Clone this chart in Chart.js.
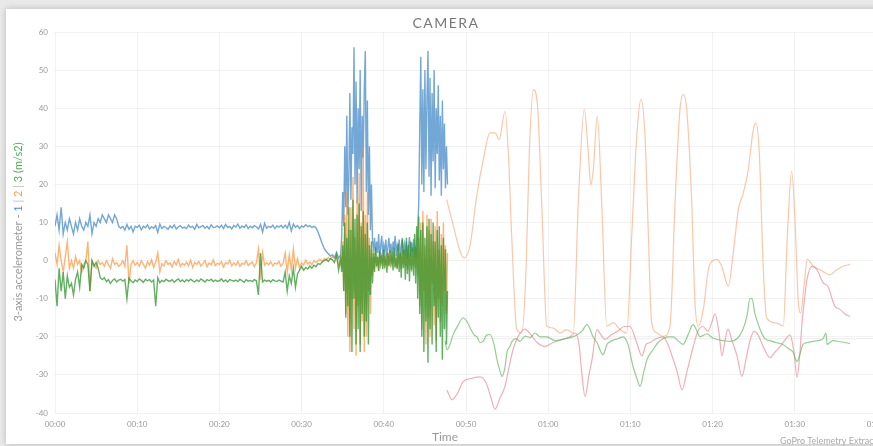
<!DOCTYPE html>
<html>
<head>
<meta charset="utf-8">
<script src="https://cdn.jsdelivr.net/npm/chart.js@4"></script>
<style>
  html, body { margin: 0; padding: 0; overflow: hidden; background: #e9e9e9; width: 873px; height: 446px; }
  #card { position: absolute; left: 6px; top: 9px; width: 900px; height: 435px; background: #fff; box-shadow: 0 0 6px rgba(0,0,0,0.22); }
  #chart { position: absolute; left: 0; top: 0; }
</style>
</head>
<body>
<div id="card"></div>
<canvas id="chart" width="900" height="446"></canvas>
<script>
// camera accelerometer: quiet part 0..34.5 s every 0.25 s, active part 34.75..48 s every 0.125 s
const quietStart = 0, quietStep = 0.25;
const activeStart = 34.75, activeStep = 0.125;

const accel1Quiet = [
  9, 12, 8, 14, 7, 10, 8, 11,
  9, 7, 10, 8, 11, 9, 8, 10,
  9, 12, 7, 10, 9, 11, 10, 12,
  11, 10, 12, 11, 10, 12, 11, 9,
  8.5, 9, 8, 9.5, 8.2, 9, 7.5, 9,
  8.7, 9.3, 8.1, 9, 8.6, 9.4, 8.3, 8.9,
  8.5, 9.2, 7.4, 9.6, 8.4, 9, 8.7, 8.2,
  9.1, 8.6, 9.4, 8.3, 8.9, 9.2, 8.5, 8.8,
  8.4, 9.3, 8.7, 9, 8.2, 9.5, 8.6, 8.9,
  9.2, 8.5, 9, 8.3, 9.4, 8.7, 8.8, 9.1,
  8.6, 9.3, 8.4, 9.5, 8.7, 9, 8.3, 9.2,
  8.8, 9.6, 8.5, 9.1, 8.7, 9.4, 8.4, 9,
  8.6, 9.2, 8.9, 8.3, 9.5, 7.5, 9.8, 8.5,
  9, 8.7, 9.3, 8.4, 9.1, 8.8, 9.2, 8.6,
  9.3, 8.5, 10, 7.8, 9.6, 8.7, 9.2, 8.4,
  9.1, 8.8, 9.4, 8.9, 9.2, 8.7, 9, 8.6,
  7.5, 6, 4.5, 3.2, 2.4, 1.8, 1.2, 1.5,
  0.8, 2.2, 0.6
];
const accel1Active = [
  1.5, 6, 18, 9, 30, 14, 38, 12,
  22, 44, 16, 35, 28, 56, 20, 47,
  15, 40, 24, 50, 13, 38, 27, 45,
  55, 18, 42, 12, 30, 8, 20, 5,
  3, 6, 1.5, 5, 2, 7, 0.5, 4,
  6.5, 1, 4, 2.5, 5.5, 0.8, 3.5, 6,
  2, 4.5, 0.3, 5, 3, 6.5, 1.2, 4,
  2.5, 5.5, 0.6, 3.8, 6, 1.5, 4.2, 2,
  5, 0.4, 3.6, 6.2, 1, 4.8, 2.2, 5.6,
  0.8, 3, 1.5, 8,
  15, 35, 53.5, 20, 45, 18, 50, 24,
  42, 55, 22, 48, 17, 44, 26, 50,
  19, 40, 28, 46, 21, 38, 17, 42,
  24, 36, 19, 30, 20, null, null
];

const accel2Quiet = [
  2, -1, 4, 0, -3, 1, 5, -2,
  0, -2, 1, -1, 0, -3, -1, 0,
  5, -8, 0, -1, -2, 0, -1, -0.5,
  -1.5, 0, -1, -2, 0.5, -1, -0.5, -1.5,
  -1, 0, -1.5, 4, -6, -1, 0, -1.2,
  -0.5, -1.5, 0, -1, -2, -0.3, -1.2, 0.2,
  -1.8, -0.4, 2, -3, -0.8, -1.4, 0, -1,
  -0.6, -1.7, -0.2, -1.1, 0.3, -1.5, -0.7, -1.2,
  -0.4, -1.3, 0.1, -1.8, -0.5, -1, -0.2, -1.4,
  -0.8, 0, -1.6, -0.6, -1.1, 0.2, -1.3, -0.7,
  -1, -0.3, -1.7, -0.5, -0.9, 0.1, -1.4, -0.6,
  -1.2, -0.2, -1.5, -0.7, -1, 0, -1.3, -0.8,
  -0.4, -1.6, -0.6, 3, -5, 2, -1.2, -0.5,
  -1.1, -0.3, -1.4, -0.6, -0.9, -0.2, -1.5, -0.7,
  2, -3, 1.5, -2.5, 3, -2, 0.5, -1.8,
  -0.6, -1.2, 0.1, -0.9, -0.4, -1.1, 0, -0.5,
  0, 0.3, -0.2, 0.5, 0.2, 0.8, 0.4, 1,
  0.6, 1.2, -1
];
const accel2Active = [
  1, -2, 5, -8, 12, -14, 18, -20,
  8, -24, 14, -10, 22, -18, 6, -25,
  16, -12, 23, -22, 10, -16, 30, -24,
  12, -20, 18, -8, 6, -14, 3, -4,
  1, -2, 2.5, -1, 0.5, -2.5, 1.5, -0.5,
  2, -1.5, 0.8, -2, 1.2, -0.3, 2.2, -1,
  0.5, -1.8, 1.6, -0.8, 2.4, -1.2, 0.2, -2,
  1.8, -0.6, 0.9, -2.2, 1.4, -1, 2.6, -1.6,
  0.4, -2.4, 3, -1.2, 1, -3, 2, -0.5,
  1.5, -2, 3, -4,
  6, -12, 10, -18, 13, -8, 4, -22,
  12, -15, 8, -20, 11, -6, 5, -17,
  9, -21, 13, -10, 3, -16, 7, -12,
  10, -8, 4, -14, 2, null, null
];

const accel3Quiet = [
  -5, -12, -2, -8, -3, -10, -4, -7,
  -6, -9, -5, -3, -7, -1, -2, 0,
  -1, -8, 0, -1.5, -0.5, -2, -4.5, -5,
  -4.5, -5.5, -5, -6, -5.2, -4.8, -5.6, -5.1,
  -4.9, -5.4, -5, -10, -4.6, -5.3, -5.8, -5.1,
  -5.5, -4.8, -5.2, -5.7, -4.9, -5.3, -5, -5.6,
  -5.1, -12, -4.5, -5.8, -5.2, -5.5, -4.9, -5.3,
  -5.4, -5, -5.7, -5.2, -4.8, -5.5, -5.1, -5.6,
  -5, -5.4, -4.9, -5.3, -5.6, -5.1, -5.5, -4.8,
  -5.2, -5.6, -5, -5.3, -4.9, -5.5, -5.1, -5.4,
  -5.3, -4.8, -5.5, -5.1, -5.6, -5, -5.2, -5.4,
  -5.1, -5.5, -4.9, -5.3, -5.7, -5, -5.4, -5.2,
  -5.5, -5, -5.3, -9, 2, -5.6, -5.1, -5.4,
  -5.2, -5.6, -5, -5.3, -5.5, -5.1, -5.4, -5.6,
  -3, -8, -4, -6, -2, -7, -3.5, -2.5,
  -1.5, -2.5, -1.8, -2.2, -1.4, -2, -1.2, -1.6,
  -0.8, -1, -0.4, 0, 0.3, -0.2, 0.5, 0.2,
  -0.5, 1.5, -2.5
];
const accel3Active = [
  0.5, -3, 4, -8, 10, -15, 6, -12,
  14, -20, 8, -24, 16, -10, 11, -22,
  12, -18, 15, -24, 9, -14, 13, -20,
  7, -16, 10, -22, 4, -9, 5, -6,
  2, -3, 3.5, -1.5, 1, -2.8, 2.6, -0.8,
  1.4, -2.2, 3, -1, 0.6, -3.2, 2, -1.4,
  2.8, -0.5, 1.2, -2.6, 3.4, -1.8, 0.4, -2.2,
  4.5, -3, 2, -4.5, 5.5, -2, 3, -5,
  6, -3.5, 4, -5.5, 5, -2.5, 3.5, -4,
  7, -6, 9, -10,
  11.6, -14, 8, -20, 10, -24, 6, -16,
  9, -26.8, 11, -18, 7, -22, 10, -12,
  5, -24, 8, -15, 9, -20, 4, -26,
  6, -18, 3, -22, -8, null, null
];

// later, smoother traces (seconds / m/s2)
const peachTimes = [47.65, 48.46, 49.27, 49.76, 50.49, 51.3, 52.1, 52.92, 53.53, 54.05, 54.74, 55.15, 55.56, 56.17, 56.78, 57.3, 57.7, 58.19, 58.67, 59.21, 59.82, 60.62, 61.44, 62.25, 63.05, 63.66, 64.39, 64.88, 65.17, 65.49, 65.97, 66.51, 67.12, 67.92, 68.73, 69.55, 70.16, 70.77, 71.29, 71.78, 72.14, 72.57, 73.24, 74.0, 74.82, 75.43, 76.03, 76.44, 76.85, 77.46, 77.86, 78.26, 78.87, 79.48, 79.89, 80.5, 81.11, 81.91, 82.52, 83.13, 83.74, 84.34, 84.95, 85.28, 85.68, 86.17, 86.58, 87.8, 88.6, 89.09, 89.62, 90.02, 90.43, 90.72, 91.12, 91.52, 92.25, 93.07, 94.28, 95.1, 95.9, 96.72];
const peachValues = [16, 9.1, 2.5, 0.7, 4, 16.9, 26.5, 33.5, 33.5, 31.8, 39.2, 28.3, 6.4, -18.1, -19, -2.4, 28.3, 44.9, 41.4, 15.2, -17.2, -17.7, -19, -18.1, -19, 15.2, 39.7, 28.3, 19.9, 23.9, 37.9, 15.2, -17.2, -16.3, -18.1, -19, 6.4, 32.6, 42.3, 32.6, 10, -16, -19, -19.9, -17.2, 15.2, 39.7, 43.6, 39.7, 15.2, -11, -17.2, -12.8, -2.4, -0.2, 0.3, -1.5, -6.7, 2.1, 13.4, 17.8, 23.9, 34.4, 36.1, 28.3, -2.4, -15.1, -16.4, -17.2, 6.4, 23.4, 10.8, -11, -13.7, -6.7, 0.3, -1.5, -2.4, -3.7, -2.4, -1.5, -1.0];

const roseTimes = [47.69, 48.3, 48.91, 49.64, 50.49, 51.7, 52.43, 53.04, 53.53, 54.14, 54.74, 55.23, 55.72, 56.45, 57.18, 57.91, 58.64, 59.61, 60.58, 61.8, 62.65, 63.26, 63.75, 64.11, 64.48, 64.96, 65.33, 65.94, 66.42, 66.91, 67.64, 68.49, 69.22, 69.95, 70.68, 71.41, 71.9, 72.38, 73.11, 73.97, 74.57, 75.06, 75.67, 76.28, 76.89, 77.62, 78.22, 78.83, 79.44, 79.93, 80.29, 80.78, 81.14, 81.51, 81.87, 82.36, 82.97, 83.58, 84.06, 84.55, 85.04, 85.52, 86.25, 86.98, 87.59, 88.2, 88.93, 89.42, 89.9, 90.27, 90.63, 90.88, 91.24, 91.48, 92.09, 92.7, 93.43, 94.04, 94.53, 94.89, 95.5, 96.11, 96.72];
const roseValues = [-34, -36.5, -35, -31.8, -31, -30.5, -32, -36, -39, -36, -33, -28, -23.4, -19.5, -18, -19.5, -21.5, -22.5, -21.5, -20.7, -20, -19, -22, -30, -35.7, -30, -26, -18.1, -19.5, -20.7, -19.5, -18.5, -17.3, -17.3, -21, -25, -22, -21.5, -20.5, -20, -22, -25, -29, -33.9, -29, -22.8, -18.5, -17.3, -18.5, -16, -14, -19, -25, -21, -18, -21, -25, -30.4, -26, -21, -18.6, -19.5, -23, -25.5, -24, -22.6, -20.5, -19.5, -24, -30.7, -24, -16.3, -9, -5, -1.5, -2.4, -5.8, -6.8, -10, -12, -12.8, -14, -14.7];

const mintTimes = [47.45, 47.69, 48.05, 48.42, 49.03, 49.64, 50.12, 50.49, 50.97, 51.34, 51.7, 52.07, 52.55, 52.92, 53.41, 53.77, 54.14, 54.38, 54.74, 54.99, 55.35, 55.6, 56.08, 56.57, 57.18, 57.79, 58.39, 59.0, 59.85, 60.83, 62.04, 63.26, 64.11, 64.72, 65.09, 65.45, 65.94, 66.67, 67.15, 67.76, 68.49, 69.1, 69.71, 70.32, 70.8, 71.17, 71.65, 72.02, 72.75, 73.36, 73.97, 74.57, 75.18, 75.79, 76.4, 77.01, 77.62, 78.1, 78.47, 79.32, 79.93, 80.54, 81.27, 82.12, 82.97, 83.7, 84.18, 84.55, 84.79, 85.16, 85.77, 86.37, 86.98, 87.71, 88.56, 89.17, 89.78, 90.27, 90.63, 91.0, 91.61, 92.21, 92.82, 93.43, 93.8, 93.92, 94.28, 94.65, 95.5, 96.11, 96.72];
const mintValues = [-21, -23.4, -22, -19.5, -17, -15, -16, -17.6, -19.5, -20, -21.5, -21.2, -19.5, -19.4, -22, -26, -29, -30.4, -28, -24, -22.5, -21.2, -20.5, -21.2, -19.8, -20.2, -19, -20, -20, -21, -20.5, -19.8, -18.5, -16.8, -18, -20, -21.5, -24.7, -22, -21, -20.5, -20, -22, -27.8, -31, -33, -29, -26, -23.4, -21.5, -20.5, -20, -20, -21, -22, -19.5, -16.8, -18.5, -20, -19.2, -20.2, -20.7, -21, -21.2, -20.5, -18, -14.5, -10, -10, -14, -18, -20.5, -21, -21.5, -22, -23, -24, -26.5, -24.5, -22, -21.5, -21.2, -21, -20.5, -19, -22, -21.5, -21, -21.3, -21.5, -21.8];

const baselineTimes = [48, 100];
const baselineValues = [-20.5, -20.5];

const yTicks = { min: -40, max: 60, step: 10 };
const xTicks = { min: 0, max: 100, step: 10 };

// sample clock of each part
const quietTimes = accel1Quiet.map((_, i) => quietStart + i * quietStep);
const activeTimes = accel1Active.map((_, i) => activeStart + i * activeStep);

function pairs(times, values) {
  return values.map((v, i) => ({ x: times[i], y: v }));
}

function sampled(quiet, active) {
  return pairs(quietTimes, quiet).concat(pairs(activeTimes, active));
}

function mmss(sec) {
  const m = Math.floor(sec / 60);
  const s = Math.round(sec % 60);
  return String(m).padStart(2, '0') + ':' + String(s).padStart(2, '0');
}

// textes : titre, axes, crédit
const labelsPlugin = {
  id: 'labels',
  afterDraw(chart) {
    const ctx = chart.ctx;
    ctx.save();

    ctx.fillStyle = '#777';
    ctx.font = '14px Lato, "Open Sans", sans-serif';
    ctx.letterSpacing = '1.5px';
    ctx.textAlign = 'center';
    ctx.textBaseline = 'middle';
    ctx.fillText('CAMERA', 446, 23);
    ctx.letterSpacing = '0px';

    ctx.fillStyle = '#999';
    ctx.font = '12px Lato, "Open Sans", sans-serif';
    ctx.fillText('Time', 445, 437);

    ctx.fillStyle = '#aaa';
    ctx.font = '9px Lato, "Open Sans", sans-serif';
    ctx.textAlign = 'left';
    ctx.fillText('GoPro Telemetry Extract', 780, 441);

    const parts = [
      ['3-axis accelerometer - ', '#999'],
      ['1', '#4a90c8'],
      [' | ', '#bbb'],
      ['2', '#f5a04a'],
      [' | ', '#bbb'],
      ['3 (m/s2)', '#4caf50']
    ];
    ctx.font = '11px Lato, "Open Sans", sans-serif';
    const total = parts.reduce((w, p) => w + ctx.measureText(p[0]).width, 0);
    ctx.translate(18, 232);
    ctx.rotate(-Math.PI / 2);
    let x = -total / 2;
    parts.forEach(p => {
      ctx.fillStyle = p[1];
      ctx.fillText(p[0], x, 0);
      x += ctx.measureText(p[0]).width;
    });
    ctx.restore();
  }
};

const line = (label, data, color, width) => ({
  label, data,
  borderColor: color,
  borderWidth: width,
  pointRadius: 0,
  fill: false,
  spanGaps: false
});

const smooth = (label, data, color) => Object.assign(line(label, data, color, 1.2), {
  cubicInterpolationMode: 'monotone'
});

new Chart(document.getElementById('chart'), {
  type: 'line',
  data: {
    datasets: [
      line('3', sampled(accel3Quiet, accel3Active), 'rgba(44,150,44,0.75)', 1.4),
      line('2', sampled(accel2Quiet, accel2Active), 'rgba(255,140,40,0.65)', 1.4),
      line('1', sampled(accel1Quiet, accel1Active), 'rgba(40,120,190,0.65)', 1.4),
      smooth('3b', pairs(mintTimes, mintValues), 'rgba(90,180,90,0.65)'),
      smooth('1b', pairs(roseTimes, roseValues), 'rgba(228,110,120,0.55)'),
      smooth('2b', pairs(peachTimes, peachValues), 'rgba(250,160,110,0.6)'),
      line('ref', pairs(baselineTimes, baselineValues), 'rgba(0,0,0,0.08)', 1)
    ]
  },
  options: {
    responsive: false,
    animation: false,
    layout: { padding: { top: 32, right: 23, left: 0, bottom: 0 } },
    plugins: {
      legend: { display: false },
      tooltip: { enabled: false },
      title: { display: false }
    },
    scales: {
      x: {
        type: 'linear',
        min: xTicks.min,
        max: xTicks.max,
        afterFit: s => { s.height = 33; },
        border: { display: false },
        grid: { color: 'rgba(0,0,0,0.05)', drawTicks: false },
        ticks: {
          stepSize: xTicks.step,
          padding: 7,
          color: '#999',
          font: { size: 8, family: 'Lato, "Open Sans", sans-serif' },
          maxRotation: 0,
          callback: v => mmss(v)
        }
      },
      y: {
        min: yTicks.min,
        max: yTicks.max,
        afterFit: s => { s.width = 55; },
        border: { display: false },
        grid: { color: 'rgba(0,0,0,0.05)', drawTicks: false },
        ticks: {
          stepSize: yTicks.step,
          padding: 7,
          color: '#999',
          font: { size: 8, family: 'Lato, "Open Sans", sans-serif' }
        }
      }
    }
  },
  plugins: [labelsPlugin]
});
</script>
</body>
</html>
